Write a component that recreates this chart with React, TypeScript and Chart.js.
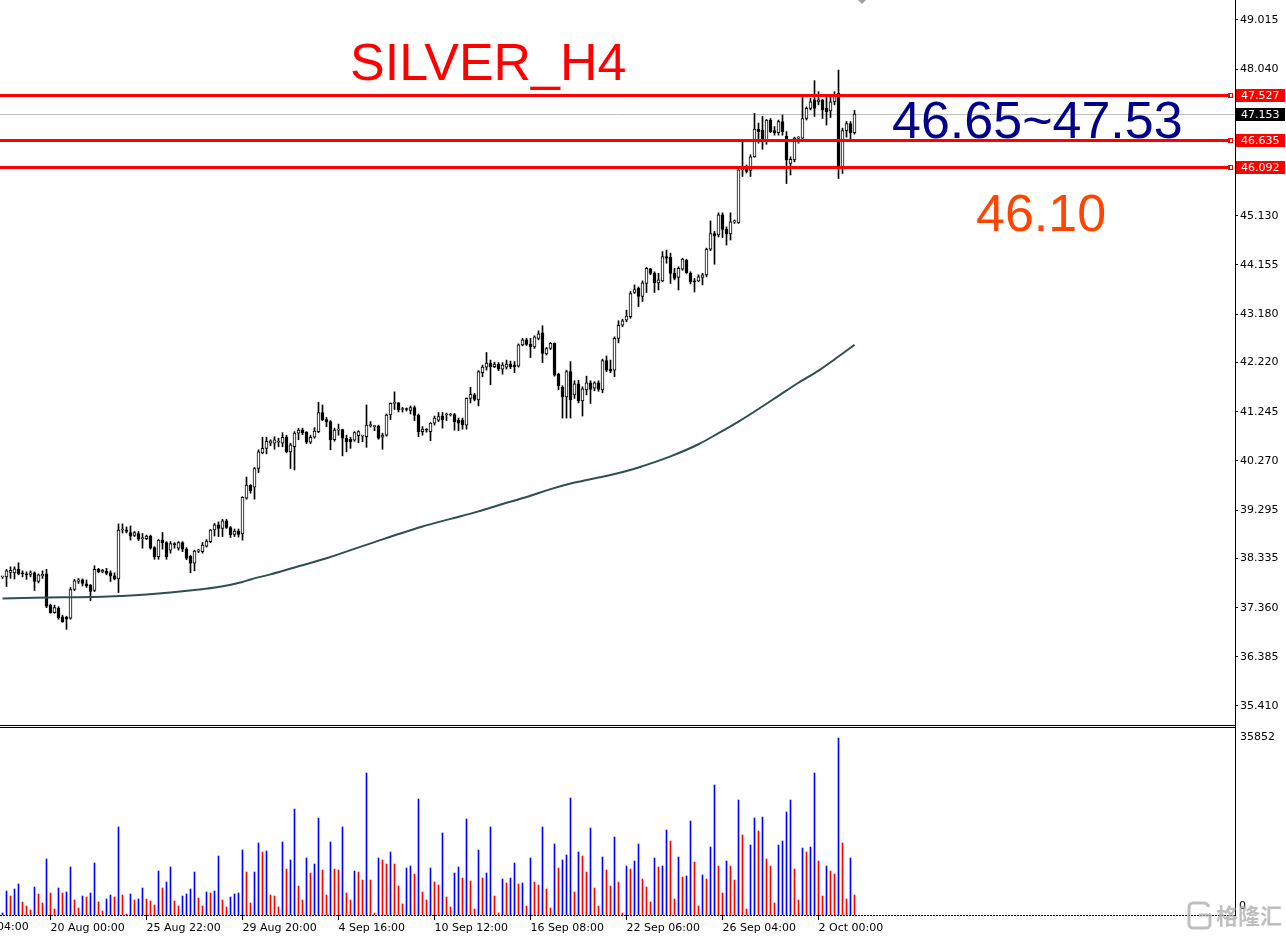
import React, { useEffect, useRef } from 'react';
import { Chart, registerables } from 'chart.js';
Chart.register(...registerables);

// ---------------- DATA (H4 bars, index 1..214) ----------------
const opens = [
  37.97, 37.97, 38.06, 38.05, 38.12, 38.05, 38.03, 38.02, 38.05, 37.88,
  37.99, 38.03, 37.41, 37.26, 37.35, 37.18, 37.17, 37.15, 37.72, 37.88,
  37.91, 37.83, 37.81, 37.70, 38.12, 38.07, 38.08, 38.05, 37.99, 37.93,
  38.90, 38.90, 38.85, 38.79, 38.83, 38.73, 38.73, 38.78, 38.55, 38.37,
  38.70, 38.65, 38.50, 38.62, 38.54, 38.65, 38.52, 38.38, 38.24, 38.48,
  38.47, 38.58, 38.67, 38.90, 39.00, 38.93, 39.08, 38.95, 38.81, 38.88,
  38.82, 39.53, 39.79, 39.75, 40.12, 40.43, 40.52, 40.62, 40.62, 40.64,
  40.62, 40.74, 40.45, 40.55, 40.82, 40.88, 40.84, 40.64, 40.74, 40.85,
  41.23, 41.09, 41.05, 40.69, 40.88, 40.89, 40.72, 40.70, 40.68, 40.77,
  40.76, 40.75, 40.97, 40.95, 40.96, 40.74, 40.78, 41.18, 41.41, 41.42,
  41.29, 41.30, 41.27, 41.33, 41.18, 40.85, 40.89, 40.85, 41.02, 41.08,
  41.16, 41.18, 41.18, 41.19, 41.08, 41.08, 40.98, 41.51, 41.58, 41.48,
  42.02, 42.13, 42.21, 42.14, 42.19, 42.09, 42.13, 42.19, 42.17, 42.15,
  42.57, 42.67, 42.58, 42.53, 42.70, 42.81, 42.39, 42.50, 42.60, 41.99,
  41.73, 41.54, 42.04, 41.58, 41.80, 41.46, 41.68, 41.82, 41.71, 41.82,
  41.68, 42.26, 42.09, 42.07, 42.70, 42.96, 43.06, 43.13, 43.61, 43.69,
  43.53, 43.79, 44.08, 43.99, 43.80, 43.84, 44.32, 44.31, 43.99, 43.91,
  44.07, 44.25, 43.99, 43.83, 43.84, 43.91, 43.96, 44.47, 44.78, 44.75,
  45.15, 44.86, 44.77, 45.01, 44.99, 46.04, 46.07, 46.03, 46.30, 46.85,
  46.83, 46.63, 47.03, 46.82, 46.78, 47.00, 46.71, 46.17, 46.24, 46.67,
  46.67, 47.06, 47.26, 47.43, 47.39, 47.43, 47.26, 47.21, 47.39, 47.56,
  46.10, 46.82, 46.96, 46.78,
];
const highs = [
  37.98, 38.12, 38.17, 38.17, 38.25, 38.09, 38.07, 38.09, 38.07, 38.03,
  38.09, 38.12, 37.43, 37.41, 37.38, 37.21, 37.19, 37.76, 37.92, 37.94,
  37.93, 37.91, 37.82, 38.19, 38.14, 38.12, 38.14, 38.09, 38.05, 39.02,
  39.02, 38.96, 38.98, 38.87, 38.87, 38.83, 38.80, 38.80, 38.57, 38.71,
  38.85, 38.67, 38.67, 38.65, 38.67, 38.67, 38.55, 38.40, 38.50, 38.52,
  38.65, 38.71, 38.91, 39.03, 39.06, 39.11, 39.11, 38.97, 38.92, 38.92,
  39.56, 39.95, 39.80, 40.14, 40.49, 40.74, 40.74, 40.69, 40.75, 40.72,
  40.83, 40.78, 40.62, 40.85, 40.92, 40.92, 40.85, 40.78, 40.93, 41.43,
  41.38, 41.13, 41.07, 40.92, 41.00, 40.90, 40.78, 40.74, 40.85, 40.87,
  40.78, 41.38, 41.05, 40.97, 40.98, 40.82, 41.20, 41.42, 41.64, 41.43,
  41.33, 41.32, 41.36, 41.36, 41.20, 40.95, 40.91, 41.03, 41.16, 41.23,
  41.23, 41.22, 41.21, 41.21, 41.12, 41.12, 41.52, 41.73, 41.61, 42.06,
  42.17, 42.42, 42.27, 42.23, 42.22, 42.22, 42.27, 42.25, 42.24, 42.59,
  42.70, 42.70, 42.70, 42.75, 42.85, 42.95, 42.52, 42.62, 42.61, 42.01,
  41.76, 42.07, 42.24, 41.86, 41.87, 41.74, 41.95, 41.86, 41.84, 41.86,
  42.29, 42.35, 42.27, 42.73, 43.05, 43.08, 43.26, 43.63, 43.76, 43.72,
  43.84, 44.11, 44.09, 44.02, 43.99, 44.42, 44.45, 44.39, 44.09, 44.12,
  44.29, 44.27, 44.02, 43.89, 43.96, 43.99, 44.49, 45.03, 44.82, 45.19,
  45.19, 44.91, 45.19, 45.05, 46.06, 46.60, 46.14, 46.34, 47.16, 46.97,
  47.10, 47.04, 47.06, 46.90, 47.03, 47.13, 46.80, 46.30, 46.69, 46.70,
  47.51, 47.29, 47.46, 47.81, 47.59, 47.44, 47.49, 47.49, 47.59, 48.02,
  46.87, 47.00, 47.00, 47.22,
];
const lows = [
  37.94, 37.78, 37.94, 37.93, 38.01, 37.97, 37.92, 37.97, 37.70, 37.85,
  37.94, 37.36, 37.25, 37.25, 37.13, 37.07, 36.93, 37.13, 37.70, 37.84,
  37.79, 37.76, 37.50, 37.68, 38.05, 38.05, 38.01, 37.88, 37.91, 37.66,
  38.84, 38.84, 38.70, 38.77, 38.69, 38.54, 38.71, 38.52, 38.32, 38.32,
  38.52, 38.32, 38.44, 38.54, 38.50, 38.47, 38.31, 38.05, 38.09, 38.45,
  38.44, 38.56, 38.65, 38.78, 38.77, 38.77, 38.93, 38.75, 38.77, 38.76,
  38.70, 39.51, 39.63, 39.51, 40.04, 40.41, 40.41, 40.57, 40.50, 40.55,
  40.55, 40.43, 40.12, 40.09, 40.69, 40.79, 40.61, 40.61, 40.72, 40.83,
  41.07, 40.95, 40.49, 40.66, 40.78, 40.37, 40.45, 40.52, 40.66, 40.63,
  40.65, 40.54, 40.94, 40.87, 40.70, 40.50, 40.76, 41.09, 41.29, 41.24,
  41.24, 41.26, 41.20, 41.07, 40.75, 40.78, 40.84, 40.67, 40.98, 41.05,
  40.92, 41.07, 41.16, 40.88, 40.87, 40.90, 40.90, 41.42, 41.46, 41.36,
  41.94, 42.07, 41.78, 42.12, 42.06, 41.99, 42.09, 42.10, 42.02, 42.13,
  42.55, 42.56, 42.32, 42.50, 42.67, 42.22, 42.37, 42.48, 41.95, 41.68,
  41.12, 41.12, 41.12, 41.51, 41.42, 41.16, 41.58, 41.41, 41.66, 41.65,
  41.62, 42.04, 42.02, 41.94, 42.61, 42.93, 43.03, 43.10, 43.59, 43.33,
  43.43, 43.61, 43.96, 43.61, 43.66, 43.82, 44.19, 43.79, 43.86, 43.66,
  44.05, 43.99, 43.78, 43.62, 43.82, 43.76, 43.92, 44.44, 44.17, 44.71,
  44.70, 44.55, 44.65, 44.98, 44.98, 45.91, 45.98, 45.91, 46.29, 46.57,
  46.45, 46.55, 46.78, 46.73, 46.73, 46.73, 45.77, 45.94, 46.20, 46.57,
  46.63, 47.03, 47.23, 47.10, 47.33, 47.06, 46.93, 47.08, 47.33, 45.87,
  45.97, 46.69, 46.65, 46.75,
];
const closes = [
  37.97, 38.09, 38.10, 38.13, 38.03, 38.03, 38.01, 38.05, 37.88, 38.01,
  38.02, 37.39, 37.26, 37.36, 37.16, 37.08, 37.13, 37.72, 37.89, 37.91,
  37.84, 37.79, 37.68, 38.12, 38.07, 38.10, 38.04, 37.99, 37.93, 38.90,
  38.91, 38.87, 38.78, 38.85, 38.72, 38.74, 38.78, 38.54, 38.37, 38.70,
  38.65, 38.37, 38.63, 38.61, 38.65, 38.52, 38.34, 38.24, 38.48, 38.50,
  38.60, 38.68, 38.90, 39.00, 38.93, 39.08, 38.95, 38.80, 38.88, 38.81,
  39.55, 39.79, 39.68, 40.12, 40.45, 40.52, 40.66, 40.67, 40.69, 40.64,
  40.74, 40.45, 40.59, 40.82, 40.88, 40.83, 40.64, 40.74, 40.86, 41.23,
  41.09, 41.05, 40.69, 40.88, 40.90, 40.72, 40.65, 40.65, 40.83, 40.85,
  40.77, 40.98, 40.97, 40.95, 40.72, 40.78, 41.18, 41.41, 41.42, 41.28,
  41.30, 41.29, 41.33, 41.17, 40.85, 40.90, 40.88, 41.02, 41.12, 41.15,
  41.09, 41.18, 41.19, 41.05, 41.02, 40.99, 41.51, 41.59, 41.49, 42.04,
  42.13, 42.21, 42.14, 42.19, 42.09, 42.17, 42.19, 42.14, 42.14, 42.57,
  42.67, 42.58, 42.53, 42.73, 42.79, 42.40, 42.50, 42.60, 41.97, 41.76,
  41.54, 42.04, 41.48, 41.80, 41.46, 41.70, 41.82, 41.69, 41.82, 41.69,
  42.26, 42.07, 42.05, 42.70, 42.96, 43.05, 43.14, 43.59, 43.67, 43.53,
  43.80, 44.09, 43.99, 43.80, 43.86, 44.32, 44.29, 43.99, 43.89, 44.09,
  44.27, 44.00, 43.82, 43.82, 43.92, 43.96, 44.47, 44.78, 44.73, 45.15,
  44.86, 44.77, 45.01, 45.02, 46.04, 46.07, 46.01, 46.30, 46.85, 46.80,
  46.63, 47.03, 46.80, 46.78, 47.00, 46.80, 46.24, 46.25, 46.67, 46.67,
  47.06, 47.26, 47.39, 47.26, 47.43, 47.23, 47.19, 47.39, 47.51, 46.10,
  46.82, 46.96, 46.78, 47.15,
];
const volumes = [
  405, 4860, 3848, 5265, 6278, 2633, 1823, 1013, 5670, 4253,
  2430, 11340, 4455, 1215, 5468, 4455, 4658, 9720, 3038, 1418,
  3848, 3645, 4455, 10530, 2633, 810, 3240, 4050, 3645, 17820,
  4050, 203, 4253, 3038, 3240, 5468, 3240, 2835, 2025, 8910,
  5468, 6683, 9720, 2835, 1823, 3848, 4253, 5265, 8708, 3443,
  1823, 4658, 4455, 4860, 11948, 3038, 1620, 3645, 4253, 4455,
  13163, 8708, 2430, 8708, 14580, 12758, 12960, 4050, 3848, 1620,
  14783, 9315, 11138, 21465, 5873, 3038, 11543, 8505, 10328, 19643,
  9113, 4050, 14783, 9315, 9113, 17820, 4455, 3038, 8910, 8708,
  7088, 28755, 7088, 405, 11543, 11138, 10328, 12758, 10328, 5873,
  2228, 9518, 9923, 8303, 23490, 4658, 3038, 9518, 6683, 6075,
  16605, 3645, 1620, 8505, 9720, 7493, 19440, 6885, 1215, 13163,
  7493, 8505, 17820, 3848, 405, 7290, 6480, 7493, 10530, 6278,
  6480, 1823, 11543, 6683, 6075, 17820, 5265, 1418, 14378, 9518,
  11138, 12150, 23693, 4658, 12758, 11948, 8708, 17618, 5468, 1823,
  11745, 9113, 5873, 15795, 6683, 405, 9923, 9315, 10935, 14378,
  7290, 5670, 2633, 11543, 9720, 9923, 17213, 14985, 3240, 11745,
  7695, 7898, 19035, 10733, 1823, 8100, 7290, 13770, 26325, 9923,
  4455, 10935, 9923, 7088, 23288, 16200, 1215, 14175, 19643, 17010,
  19845, 11340, 9923, 2430, 14175, 14985, 20858, 23288, 9315, 3038,
  13568, 12758, 13770, 28755, 10935, 3848, 9923, 8910, 8303, 35852,
  14580, 3240, 11543, 4050,
];
// Moving average (at these bars)
const maBars = [1, 9, 16, 26, 33, 37, 43, 49, 55, 61, 63, 68, 75, 82, 88, 94, 100, 106, 113, 120, 125, 133, 138, 144, 150, 153, 157, 160, 168, 175, 180, 185, 190, 195, 200, 205, 210, 214];
const maValues = [37.54, 37.555, 37.565, 37.575, 37.60, 37.62, 37.66, 37.71, 37.77, 37.87, 37.92, 38.02, 38.18, 38.34, 38.50, 38.66, 38.82, 38.97, 39.12, 39.27, 39.39, 39.58, 39.71, 39.84, 39.94, 39.99, 40.07, 40.14, 40.36, 40.60, 40.82, 41.05, 41.30, 41.56, 41.82, 42.06, 42.34, 42.57];

const priceTicks = [49.015, 48.040, 47.065, 46.105, 45.130, 44.155, 43.180, 42.220, 41.245, 40.270, 39.295, 38.335, 37.360, 36.385, 35.410];
const xTickBars = [13, 37, 61, 85, 109, 133, 157, 181, 205];
const xTickLabels = ['20 Aug 00:00', '25 Aug 22:00', '29 Aug 20:00', '4 Sep 16:00', '10 Sep 12:00', '16 Sep 08:00', '22 Sep 06:00', '26 Sep 04:00', '2 Oct 00:00'];
const cutTickBar = -11;
const cutTickLabel = '14 Aug 04:00';
const levelLines = [47.527, 46.635, 46.092];
const currentPrice = 47.153;
const volumeMaxLabel = 35852;

// ---------------- LAYOUT ----------------
const W = 1286;
const MAIN_H = 726;
const VOL_TOP = 726;
const VOL_H = 211;
const AXIS_W = 51;
const X_MIN = 0.375;
const X_MAX = 0.375 + (W - AXIS_W) / 4;
const Y_MIN = 35.033;
const Y_MAX = 49.41;
const VOL_MAX = 37878;
const FONT = '"DejaVu Sans", Verdana, sans-serif';
const BIG_FONT = '52px "Liberation Sans", Arial, sans-serif';

const mainOverlay = {
  id: 'mainOverlay',
  beforeDatasetsDraw(chart: any) {
    const { ctx, scales } = chart;
    const y = Math.round(scales.y.getPixelForValue(currentPrice)) + 0.5;
    ctx.save();
    ctx.strokeStyle = '#c0c0c0';
    ctx.lineWidth = 1;
    ctx.beginPath();
    ctx.moveTo(0, y);
    ctx.lineTo(chart.chartArea.right, y);
    ctx.stroke();
    ctx.restore();
  },
  afterDatasetsDraw(chart: any) {
    const { ctx, scales, chartArea } = chart;
    ctx.save();
    levelLines.forEach((v) => {
      const y = Math.round(scales.y.getPixelForValue(v)) + 0.5;
      ctx.strokeStyle = '#ff0000';
      ctx.lineWidth = 3;
      ctx.beginPath();
      ctx.moveTo(0, y);
      ctx.lineTo(chartArea.right - 5, y);
      ctx.stroke();
      ctx.lineWidth = 1;
      ctx.strokeRect(chartArea.right - 6.5, y - 2, 4, 4);
    });
    ctx.font = BIG_FONT;
    ctx.textBaseline = 'alphabetic';
    ctx.textAlign = 'left';
    ctx.fillStyle = '#ff0000';
    ctx.fillText('SILVER_H4', 350, 80);
    ctx.fillStyle = '#00008b';
    ctx.fillText('46.65~47.53', 892, 138);
    ctx.fillStyle = '#ff4500';
    ctx.fillText('46.10', 976, 231);
    ctx.strokeStyle = '#000';
    ctx.lineWidth = 1;
    ctx.beginPath();
    ctx.moveTo(0, chartArea.bottom + 0.5);
    ctx.lineTo(chartArea.right + 1, chartArea.bottom + 0.5);
    ctx.stroke();
    ctx.fillStyle = '#a0a0a0';
    ctx.beginPath();
    ctx.moveTo(858, 0);
    ctx.lineTo(866, 0);
    ctx.lineTo(862, 4);
    ctx.closePath();
    ctx.fill();
    ctx.restore();
  },
  afterDraw(chart: any) {
    const { ctx, scales, chartArea } = chart;
    ctx.save();
    ctx.font = `11px ${FONT}`;
    ctx.textBaseline = 'middle';
    ctx.textAlign = 'left';
    const box = (v: number, bg: string, text: string) => {
      const y = Math.round(scales.y.getPixelForValue(v));
      ctx.fillStyle = bg;
      ctx.fillRect(chartArea.right + 1, y - 6, W - chartArea.right - 2, 13);
      ctx.fillStyle = '#ffffff';
      ctx.fillText(text, chartArea.right + 6, y + 1);
    };
    levelLines.forEach((v) => box(v, '#ff0000', v.toFixed(3)));
    box(currentPrice, '#000000', currentPrice.toFixed(3));
    ctx.restore();
  },
};

const volOverlay = {
  id: 'volOverlay',
  afterDraw(chart: any) {
    const { ctx, scales, chartArea } = chart;
    ctx.save();
    ctx.strokeStyle = '#000';
    ctx.lineWidth = 1;
    ctx.beginPath();
    ctx.moveTo(0, 1.5);
    ctx.lineTo(chartArea.right + 1, 1.5);
    ctx.stroke();
    ctx.beginPath();
    ctx.moveTo(chartArea.right + 0.5, 0);
    ctx.lineTo(chartArea.right + 0.5, chartArea.top);
    ctx.stroke();
    ctx.setLineDash([2, 1]);
    ctx.beginPath();
    ctx.moveTo(0, chartArea.bottom + 0.5);
    ctx.lineTo(chartArea.right, chartArea.bottom + 0.5);
    ctx.stroke();
    ctx.setLineDash([]);
    ctx.font = `11px ${FONT}`;
    ctx.fillStyle = '#000';
    ctx.textAlign = 'left';
    ctx.textBaseline = 'middle';
    ctx.fillText(String(volumeMaxLabel), chartArea.right + 5, scales.y.getPixelForValue(volumeMaxLabel) - 1);
    ctx.fillText('0', chartArea.right + 4, chartArea.bottom - 9);
    ctx.textBaseline = 'top';
    ctx.fillText(cutTickLabel, scales.x.getPixelForValue(cutTickBar), chartArea.bottom + 7);
    ctx.fillStyle = 'rgba(170,170,170,0.75)';
    ctx.font = 'bold 22px "Noto Sans CJK SC", sans-serif';
    ctx.textBaseline = 'middle';
    ctx.fillText('格隆汇', 1216, 190);
    ctx.strokeStyle = 'rgba(170,170,170,0.75)';
    ctx.lineWidth = 3;
    ctx.beginPath();
    ctx.moveTo(1208, 180);
    ctx.lineTo(1208, 178);
    ctx.arcTo(1208, 177, 1190, 177, 4);
    ctx.lineTo(1192, 177);
    ctx.arcTo(1189, 177, 1189, 202, 4);
    ctx.lineTo(1189, 199);
    ctx.arcTo(1189, 202, 1210, 202, 4);
    ctx.lineTo(1206, 202);
    ctx.arcTo(1210, 202, 1210, 188, 4);
    ctx.lineTo(1210, 189);
    ctx.lineTo(1199, 189);
    ctx.stroke();
    ctx.restore();
  },
};

export default function App() {
  const mainRef = useRef<HTMLCanvasElement>(null);
  const volRef = useRef<HTMLCanvasElement>(null);

  useEffect(() => {
    const wickData = highs.map((h, i) => ({ x: i + 1, y: [lows[i], h] }));
    const bodyData = opens.map((o, i) => ({ x: i + 1, y: [o, closes[i]] }));
    const bodyFill = opens.map((o, i) => (closes[i] >= o ? '#ffffff' : '#000000'));
    const maData = maBars.map((b, i) => ({ x: b, y: maValues[i] }));

    const main = new Chart(mainRef.current as HTMLCanvasElement, {
      type: 'bar',
      data: {
        datasets: [
          {
            type: 'line',
            data: maData as any,
            borderColor: '#2f4f4f',
            borderWidth: 2,
            pointRadius: 0,
            cubicInterpolationMode: 'monotone',
            order: 0,
          } as any,
          {
            type: 'bar',
            data: bodyData as any,
            backgroundColor: bodyFill,
            borderColor: '#000000',
            borderWidth: 1,
            borderSkipped: false,
            barThickness: 3,
            grouped: false,
            minBarLength: 1,
            order: 1,
          } as any,
          {
            type: 'bar',
            data: wickData as any,
            backgroundColor: '#000000',
            borderWidth: 0,
            barThickness: 1,
            grouped: false,
            order: 2,
          } as any,
        ],
      },
      options: {
        responsive: false,
        animation: false,
        devicePixelRatio: 1,
        events: [],
        layout: { padding: { left: 0, right: 0, top: 0, bottom: 1 } },
        plugins: { legend: { display: false }, tooltip: { enabled: false } },
        scales: {
          x: { type: 'linear', min: X_MIN, max: X_MAX, offset: false, display: false, grid: { offset: false } } as any,
          y: {
            type: 'linear',
            position: 'right',
            min: Y_MIN,
            max: Y_MAX,
            afterBuildTicks: (s: any) => {
              s.ticks = priceTicks.map((v) => ({ value: v }));
            },
            afterFit: (s: any) => {
              s.width = AXIS_W;
              s.paddingTop = 0;
              s.paddingBottom = 0;
            },
            ticks: {
              autoSkip: false,
              padding: 2,
              color: '#000',
              font: { family: FONT, size: 11 },
              callback: (v: any) => Number(v).toFixed(3),
            },
            grid: { drawOnChartArea: false, drawTicks: true, tickLength: 3, color: '#000' },
            border: { display: true, color: '#000', width: 1 },
          } as any,
        },
      },
      plugins: [mainOverlay],
    });

    const volData = volumes.map((v, i) => ({ x: i + 1, y: v }));
    const volColors = volumes.map((v, i) => (i > 0 && v <= volumes[i - 1] ? '#ff0000' : '#0000ff'));

    const vol = new Chart(volRef.current as HTMLCanvasElement, {
      type: 'bar',
      data: {
        datasets: [
          {
            data: volData as any,
            backgroundColor: volColors,
            borderWidth: 0,
            barThickness: 1,
            grouped: false,
          } as any,
        ],
      },
      options: {
        responsive: false,
        animation: false,
        devicePixelRatio: 1,
        events: [],
        layout: { padding: { left: 0, right: 0, top: 2, bottom: 0 } },
        plugins: { legend: { display: false }, tooltip: { enabled: false } },
        scales: {
          x: {
            type: 'linear',
            position: 'bottom',
            min: X_MIN,
            max: X_MAX,
            offset: false,
            afterBuildTicks: (s: any) => {
              s.ticks = xTickBars.map((v) => ({ value: v }));
            },
            afterFit: (s: any) => {
              s.height = 22;
              s.paddingLeft = 0;
              s.paddingRight = 0;
            },
            ticks: {
              autoSkip: false,
              maxRotation: 0,
              minRotation: 0,
              align: 'start',
              padding: 2,
              color: '#000',
              font: { family: FONT, size: 11 },
              callback: (_v: any, i: number) => xTickLabels[i],
            },
            grid: { offset: false, drawOnChartArea: false, drawTicks: true, tickLength: 5, color: '#000' },
            border: { display: false },
          } as any,
          y: {
            type: 'linear',
            position: 'right',
            min: 0,
            max: VOL_MAX,
            afterFit: (s: any) => {
              s.width = AXIS_W;
              s.paddingTop = 0;
              s.paddingBottom = 0;
            },
            ticks: { display: false },
            grid: { display: false, drawTicks: false },
            border: { display: true, color: '#000', width: 1 },
          } as any,
        },
      },
      plugins: [volOverlay],
    });

    return () => {
      main.destroy();
      vol.destroy();
    };
  }, []);

  return (
    <div style={{ position: 'fixed', left: 0, top: 0, width: W, height: 937, background: '#ffffff', overflow: 'hidden' }}>
      <canvas ref={mainRef} width={W} height={MAIN_H} style={{ position: 'absolute', left: 0, top: 0, width: W, height: MAIN_H }} />
      <canvas ref={volRef} width={W} height={VOL_H} style={{ position: 'absolute', left: 0, top: VOL_TOP, width: W, height: VOL_H }} />
    </div>
  );
}
